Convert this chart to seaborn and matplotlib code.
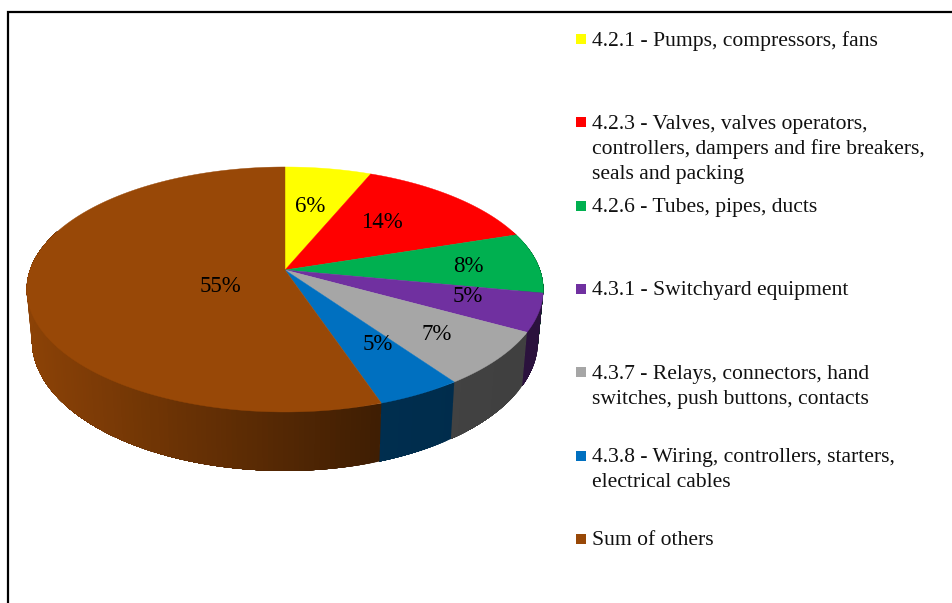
import numpy as np
import matplotlib
matplotlib.use("Agg")
import matplotlib.pyplot as plt
from matplotlib.patches import Rectangle
import seaborn as sns

# Share of each group (%)
categories = [
    "4.2.1 - Pumps, compressors, fans",
    "4.2.3 - Valves, valves operators,\ncontrollers, dampers and fire breakers,\nseals and packing",
    "4.2.6 - Tubes, pipes, ducts",
    "4.3.1 - Switchyard equipment",
    "4.3.7 - Relays, connectors, hand\nswitches, push buttons, contacts",
    "4.3.8 - Wiring, controllers, starters,\nelectrical cables",
    "Sum of others",
]
values = [6.3, 13.7, 8.0, 5.0, 7.2, 4.6, 55.2]
colors = ["#FFFF00", "#FF0000", "#00B050", "#7030A0", "#A6A6A6", "#0070C0", "#984807"]

# where the percent labels sit (pixels)
label_x = [310, 382, 468, 468, 437, 378, 220]
label_y = [206, 222, 267, 297, 335, 345, 286]

sns.set_theme(style="white")
plt.rcParams["font.family"] = ["Liberation Serif", "DejaVu Serif"]
palette = sns.color_palette(colors)

fig = plt.figure(figsize=(9.52, 6.03), dpi=100)
ax = fig.add_axes([0, 0, 1, 1])
ax.set_xlim(0, 952)
ax.set_ylim(603, 0)
ax.axis("off")

# tilted pie: circle seen in perspective
cx, cy = 285, 270
rx, ry, k = 255, 119.4, 0.159
depth = 49.6


def rim(theta):
    s = 1 / (1 + k * np.cos(theta))
    return cx + rx * np.sin(theta) * s, cy - ry * np.cos(theta) * s, s


edges = np.radians(np.concatenate([[0], np.cumsum(values)]) * 3.6)

# side wall, strips overlap the next one so no seams show
for i, col in enumerate(palette):
    start = max(edges[i], np.radians(70))
    stop = min(edges[i + 1], np.radians(290))
    if stop <= start:
        continue
    steps = np.linspace(start, stop, int(np.degrees(stop - start)) + 2)
    for a, b in zip(steps[:-1], steps[1:]):
        th = np.linspace(a, stop, 60)
        x, y, s = rim(th)
        xb = cx + (x - cx) * 0.98
        yb = y + depth * s
        xm = rim(np.array([(a + b) / 2]))[0][0]
        shade = np.interp(xm, [27, 380, 540], [0.92, 0.41, 0.38])
        c = tuple(v * shade for v in col)
        ax.fill(np.r_[x, xb[::-1]], np.r_[y, yb[::-1]], color=c, lw=0)

# top face
for i, col in enumerate(palette):
    th = np.linspace(edges[i], edges[i + 1], 200)
    x, y, _ = rim(th)
    ax.fill(np.r_[cx, x], np.r_[cy, y], color=col, lw=0.3)

for v, x, y in zip(values, label_x, label_y):
    ax.text(x, y, f"{round(v)}%", ha="center", va="center", fontsize=16.5, color="black")

# legend, spaced evenly by hand like the original
for i, (name, col) in enumerate(zip(categories, palette)):
    ly = 39 + 83.3 * i
    ax.add_patch(Rectangle((576, ly - 5), 10, 10, color=col, lw=0))
    for j, line in enumerate(name.split("\n")):
        ax.text(592, ly + 2 + 25 * j, line, ha="left", va="center", fontsize=15.6, color="#111111")

# frame, only top and left show
ax.plot([7.5, 7.5, 952], [603, 12, 12], color="black", lw=1.6, solid_joinstyle="miter")

fig.savefig("out.png", dpi=100)
